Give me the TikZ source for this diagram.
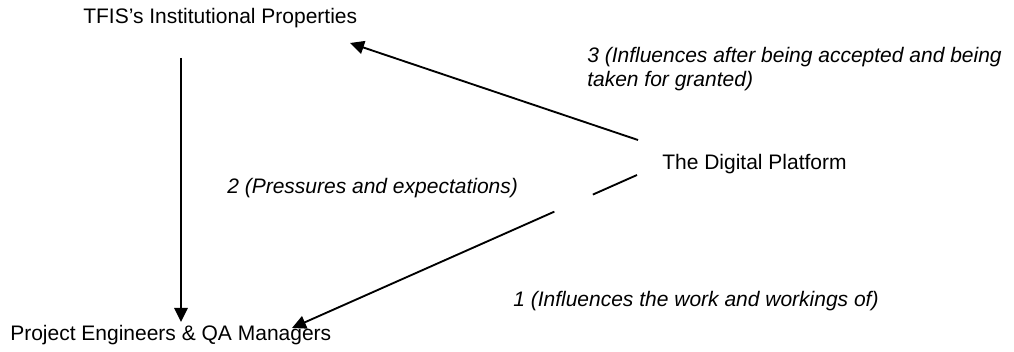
\documentclass[tikz,border=0pt]{standalone}
\usepackage{fontspec}
\setmainfont{Liberation Sans}
\usetikzlibrary{arrows.meta}
\tikzset{
  lbl/.style={inner sep=0pt, anchor=base west, font=\fontsize{15.75}{18}\selectfont},
  ital/.style={lbl, font=\fontsize{15.75}{18}\selectfont\itshape, align=left},
  conn/.style={line width=1.4pt, -{Triangle[length=10.5pt,width=10pt]}},
}
\begin{document}
\begin{tikzpicture}[x=0.75pt,y=-0.75pt]
\useasboundingbox (0,0) rectangle (1014,352);
% nodes
\node[lbl] (tfis) at (83,24) {TFIS’s Institutional Properties};
\node[lbl] (dp) at (662,170) {The Digital Platform};
\node[lbl] (pe) at (10,340.7) {Project Engineers \& QA Managers};
% labels (base anchor = last line)
\node[ital] (l3) at (587,86.7) {3 (Influences after being accepted and being\\taken for granted)};
\node[ital] (l2) at (227,193.3) {2 (Pressures and expectations)};
\node[ital] (l1) at (513,306.7) {1 (Influences the work and workings of)};
% connector end points
\coordinate (tfisout) at (181,58);
\coordinate (pein1) at (181,322);
\coordinate (dpout3) at (638,140);
\coordinate (tfisin) at (350,43);
\coordinate (dpout1) at (637,175);
\coordinate (pein2) at (292,328);
% connectors
\draw[conn] (tfisout) -- (pein1);
\draw[conn] (dpout3) -- (tfisin);
\draw[conn, dash pattern=on 36.2pt off 31.6pt on 600pt] (dpout1) -- (pein2);
\end{tikzpicture}
\end{document}
